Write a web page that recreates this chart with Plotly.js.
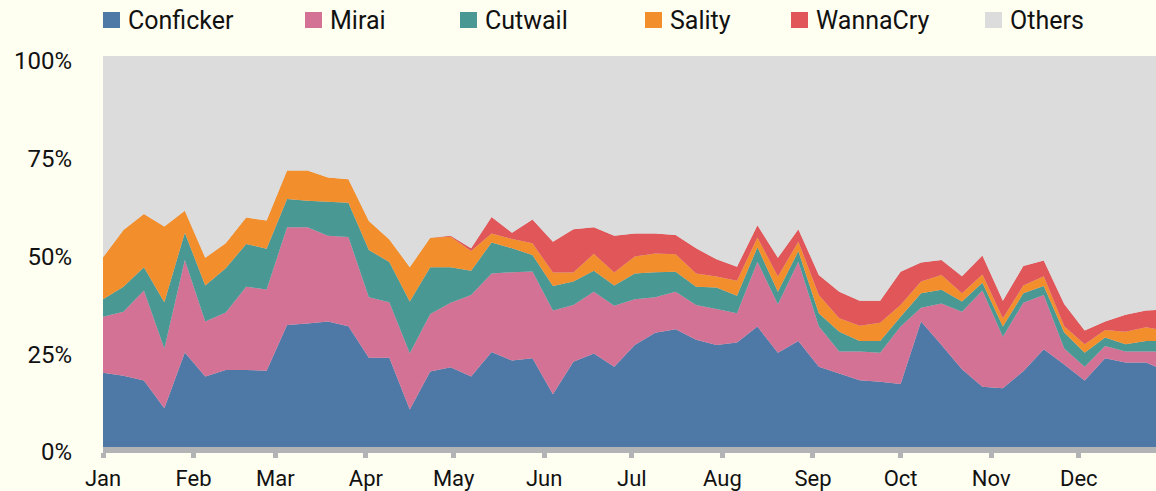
<!DOCTYPE html>
<html>
<head>
<meta charset="utf-8">
<script src="https://cdn.plot.ly/plotly-3.0.1.min.js"></script>
<style>
  html, body { margin: 0; padding: 0; background: #fefef1; overflow: hidden; }
  #chart { width: 1156px; height: 491px; }
</style>
</head>
<body>
<div id="chart"></div>
<script>
// Weekly observation dates (categories)
const weeks = [
  '2017-01-01','2017-01-08','2017-01-15','2017-01-22','2017-01-29',
  '2017-02-05','2017-02-12','2017-02-19','2017-02-26',
  '2017-03-05','2017-03-12','2017-03-19','2017-03-26',
  '2017-04-02','2017-04-09','2017-04-16','2017-04-23','2017-04-30',
  '2017-05-07','2017-05-14','2017-05-21','2017-05-28',
  '2017-06-04','2017-06-11','2017-06-18','2017-06-25',
  '2017-07-02','2017-07-09','2017-07-16','2017-07-23','2017-07-30',
  '2017-08-06','2017-08-13','2017-08-20','2017-08-27',
  '2017-09-03','2017-09-10','2017-09-17','2017-09-24',
  '2017-10-01','2017-10-08','2017-10-15','2017-10-22','2017-10-29',
  '2017-11-05','2017-11-12','2017-11-19','2017-11-26',
  '2017-12-03','2017-12-10','2017-12-17','2017-12-24','2017-12-31'
];

// Share of infections (%) per family
const conficker = [19.0,18.2,17.0,9.9,24.2,18.0,19.7,19.7,19.5,31.2,31.6,32.1,30.9,22.8,22.8,9.6,19.3,20.4,18.0,24.3,22.1,22.7,13.5,21.8,23.9,20.5,26.1,29.2,30.1,27.4,26.1,26.7,30.8,24.1,27.1,20.5,18.8,17.1,16.7,16.1,32.1,26.1,19.9,15.4,15.0,19.4,25.0,21.1,17.0,22.7,21.6,21.6,19.4];
const mirai     = [14.3,16.4,23.0,15.3,23.6,14.1,14.7,21.3,20.8,25.0,24.6,21.9,22.8,15.5,14.2,14.4,14.7,16.5,20.9,20.1,22.6,22.2,21.4,14.5,15.8,15.6,11.7,9.1,9.6,8.9,9.2,7.5,16.6,12.4,20.3,10.4,5.6,7.3,7.4,14.7,3.5,10.6,14.7,24.6,13.2,17.5,13.9,4.1,3.5,3.1,2.8,2.8,5.0];
const cutwail   = [4.5,6.4,6.0,11.8,7.0,9.2,11.3,10.9,10.4,7.2,6.8,8.7,8.8,12.1,10.3,13.2,12.0,9.1,6.2,7.9,6.1,4.2,6.3,6.0,5.4,5.2,6.6,6.4,5.1,4.7,5.5,4.5,3.7,3.2,2.7,3.3,5.1,2.7,3.0,2.5,3.7,3.5,2.6,2.0,2.6,2.4,2.3,4.1,3.6,2.2,1.9,2.7,2.7];
const sality    = [10.7,14.5,13.6,19.4,5.6,7.1,6.4,6.8,7.2,7.3,7.7,6.2,6.0,7.4,5.8,8.8,7.5,7.8,5.0,2.3,2.4,3.0,3.4,2.3,4.3,3.3,4.3,4.8,4.5,3.4,2.8,3.8,2.5,3.9,2.4,4.7,3.4,3.9,4.7,3.0,3.0,3.8,2.1,2.1,2.1,2.0,2.5,1.6,2.2,1.9,3.2,3.5,2.6];
const wannacry  = [0,0,0,0,0,0,0,0,0,0,0,0,0,0,0,0,0,0.2,0.7,4.2,1.6,6.1,7.9,11.1,6.8,9.4,5.9,5.1,4.9,6.4,4.4,3.6,3.1,4.8,3.2,5.1,6.8,6.4,5.6,8.5,4.9,3.8,4.4,4.9,4.5,5.0,4.0,5.7,3.5,2.2,4.3,4.3,5.5];
const others    = [51.5,44.5,40.4,43.6,39.6,51.6,47.9,41.3,42.1,29.3,29.3,31.1,31.5,42.2,46.9,54.0,46.5,46.0,49.2,41.2,45.2,41.8,47.5,44.3,43.8,46.0,45.4,45.4,45.8,49.2,52.0,53.9,43.3,51.6,44.3,56.0,60.3,62.6,62.6,55.2,52.8,52.2,56.3,51.0,62.6,53.7,52.3,63.4,70.2,67.9,66.2,65.1,64.8];

const seriesNames = ['Conficker','Mirai','Cutwail','Sality','WannaCry','Others'];
const seriesValues = [conficker, mirai, cutwail, sality, wannacry, others];
const colors = ['#4e79a7','#d37295','#499894','#f28e2b','#e15759','#dcdcdc'];

const monthTicks = ['2017-01-01','2017-02-01','2017-03-01','2017-04-01','2017-05-01','2017-06-01',
                    '2017-07-01','2017-08-01','2017-09-01','2017-10-01','2017-11-01','2017-12-01'];
const monthLabels = ['Jan','Feb','Mar','Apr','May','Jun','Jul','Aug','Sep','Oct','Nov','Dec'];
const yTicks = [0,25,50,75,100];
const yLabels = ['0%','25%','50%','75%','100%'];

const FONT = 'Roboto, "DejaVu Sans Condensed", "Liberation Sans Narrow", sans-serif';

const traces = seriesNames.map((name, i) => ({
  type: 'scatter',
  x: weeks,
  y: seriesValues[i],
  name: name,
  stackgroup: 'one',
  mode: 'none',
  fill: 'tonexty',
  fillcolor: colors[i],
  line: {width: 0, color: colors[i]},
  showlegend: false
}));

// legend layout (pixel positions converted to paper coords)
const W = 1156, H = 491;
const M = {l: 103, r: 0, t: 56, b: 44};
const plotW = W - M.l - M.r, plotH = H - M.t - M.b;
const px = x => (x - M.l) / plotW;
const py = y => (H - M.b - y) / plotH;
const legendLeft = [103, 305, 460, 645, 791, 985];

const shapes = [];
const annotations = [];
seriesNames.forEach((name, i) => {
  shapes.push({
    type: 'rect', xref: 'paper', yref: 'paper',
    x0: px(legendLeft[i]), x1: px(legendLeft[i] + 17),
    y0: py(28), y1: py(12),
    fillcolor: colors[i], line: {width: 0}
  });
  annotations.push({
    xref: 'paper', yref: 'paper',
    x: px(legendLeft[i] + 23), y: py(21),
    xanchor: 'left', yanchor: 'middle',
    text: name, showarrow: false,
    font: {family: FONT, size: 25, color: '#111'}
  });
});

const layout = {
  width: W, height: H,
  margin: M,
  paper_bgcolor: '#fefef1',
  plot_bgcolor: '#dcdcdc',
  showlegend: false,
  font: {family: FONT, size: 22, color: '#111'},
  xaxis: {
    type: 'date',
    range: ['2017-01-01', '2017-12-27 10:00'],
    tickmode: 'array', tickvals: monthTicks, ticktext: monthLabels,
    showgrid: false, zeroline: false,
    showline: true, linecolor: '#b2b3b5', linewidth: 6,
    ticks: 'outside', ticklen: 5, tickwidth: 5, tickcolor: '#b2b3b5',
    ticklabelstandoff: 2,
    tickfont: {family: FONT, size: 22, color: '#111'}
  },
  yaxis: {
    range: [0, 100],
    tickmode: 'array', tickvals: yTicks, ticktext: yLabels,
    showgrid: false, zeroline: false, showline: false,
    ticks: '', ticklabelstandoff: 30, ticklabelshift: 5,
    tickfont: {family: FONT, size: 24, color: '#111'}
  },
  shapes: shapes,
  annotations: annotations
};

Plotly.newPlot('chart', traces, layout, {staticPlot: true, displayModeBar: false});
</script>
</body>
</html>
